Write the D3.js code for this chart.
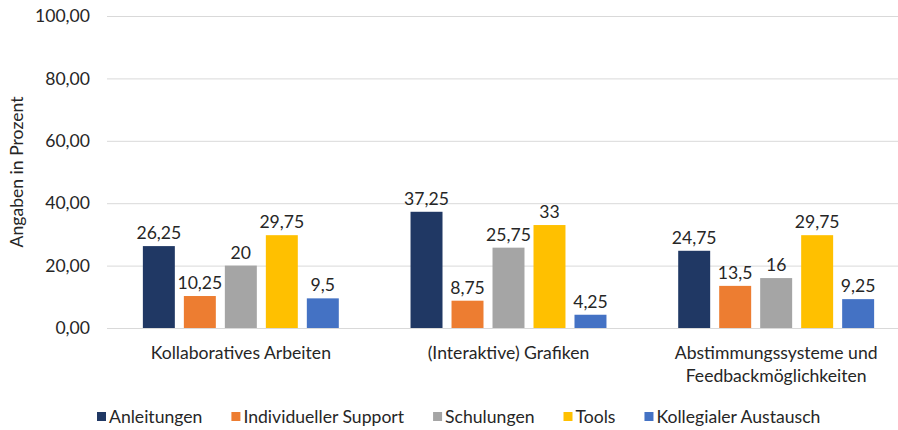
<!DOCTYPE html>
<html><head><meta charset="utf-8">
<script src="https://cdn.jsdelivr.net/npm/d3@7"></script>
<style>body{margin:0;background:#fff}svg{display:block}text{font-family:Lato,"Open Sans",sans-serif;fill:#262626}</style>
</head><body><svg id="c" width="898" height="430"></svg>
<script>
const categories = [["Kollaboratives Arbeiten"], ["(Interaktive) Grafiken"], ["Abstimmungssysteme und", "Feedbackmöglichkeiten"]];
const seriesNames = ["Anleitungen", "Individueller Support", "Schulungen", "Tools", "Kollegialer Austausch"];
const anleitungen = [26.25, 37.25, 24.75];
const individuellerSupport = [10.25, 8.75, 13.5];
const schulungen = [20, 25.75, 16];
const tools = [29.75, 33, 29.75];
const kollegialerAustausch = [9.5, 4.25, 9.25];
const valueLabels = [["26,25","37,25","24,75"],["10,25","8,75","13,5"],["20","25,75","16"],["29,75","33","29,75"],["9,5","4,25","9,25"]];
const yTicks = [0, 20, 40, 60, 80, 100];
const yTickLabels = ["0,00", "20,00", "40,00", "60,00", "80,00", "100,00"];
const colors = ["#203864", "#ED7D31", "#A5A5A5", "#FFC000", "#4472C4"];

const series = [anleitungen, individuellerSupport, schulungen, tools, kollegialerAustausch];
const svg = d3.select("#c");
const fs = 17.6;
const y = d3.scaleLinear().domain([0, 100]).range([328, 16]);
const x0 = d3.scaleBand().domain(d3.range(categories.length)).range([107, 910]).padding(0);
const x1 = d3.scaleBand().domain(d3.range(series.length)).range([0, x0.bandwidth()]).paddingInner(0.22).paddingOuter(0.875);

svg.append("g").selectAll("line").data(yTicks).join("line")
  .attr("x1", 107).attr("x2", 898).attr("y1", d => y(d) + 0.5).attr("y2", d => y(d) + 0.5)
  .attr("stroke", "#d9d9d9").attr("stroke-width", 1);

svg.append("g").selectAll("text").data(yTicks).join("text")
  .attr("x", 90).attr("y", d => y(d)).attr("dy", "0.35em").attr("text-anchor", "end")
  .style("font-size", fs + "px").text((d, i) => yTickLabels[i]);

svg.append("text").attr("transform", "translate(23,172) rotate(-90)").attr("text-anchor", "middle")
  .style("font-size", fs + "px").text("Angaben in Prozent");

const g = svg.append("g");
series.forEach((vals, si) => {
  g.selectAll(".b" + si).data(vals).join("rect")
    .attr("x", (d, ci) => x0(ci) + x1(si)).attr("width", x1.bandwidth())
    .attr("y", d => y(d)).attr("height", d => y(0) - y(d)).attr("fill", colors[si]);
  g.selectAll(".l" + si).data(vals).join("text")
    .attr("x", (d, ci) => x0(ci) + x1(si) + x1.bandwidth() / 2).attr("y", d => y(d) - 7)
    .attr("text-anchor", "middle").style("font-size", fs + "px")
    .text((d, ci) => valueLabels[si][ci]);
});

categories.forEach((lines, ci) => {
  const t = svg.append("text").attr("text-anchor", "middle").style("font-size", fs + "px");
  lines.forEach((ln, li) => {
    t.append("tspan").attr("x", x0(ci) + x0.bandwidth() / 2).attr("y", 359 + li * 23).text(ln);
  });
});

const lg = svg.append("g");
let lx = 97;
seriesNames.forEach((n, i) => {
  lg.append("rect").attr("x", lx).attr("y", 412).attr("width", 9).attr("height", 9).attr("fill", colors[i]);
  const t = lg.append("text").attr("x", lx + 12).attr("y", 423).style("font-size", fs + "px").text(n);
  lx += 12 + t.node().getComputedTextLength() + 29;
});
</script></body></html>
